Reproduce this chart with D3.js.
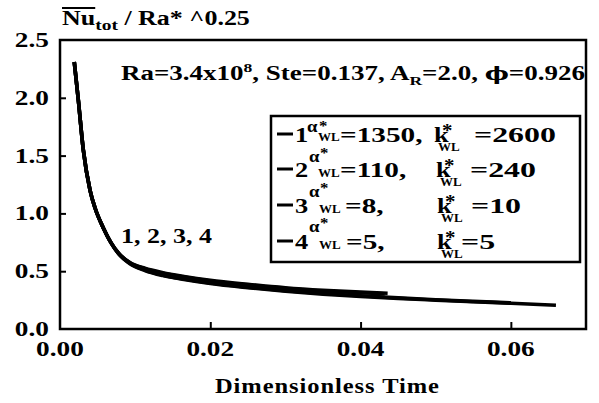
<!DOCTYPE html>
<html>
<head>
<meta charset="utf-8">
<script src="https://cdn.jsdelivr.net/npm/d3@7/dist/d3.min.js"></script>
<style>
  html, body { margin: 0; padding: 0; background: #fff; }
  svg { display: block; }
  text { font-family: "Liberation Serif", "Times New Roman", serif; font-weight: bold; fill: #000; }
</style>
</head>
<body>
<svg id="chart" width="599" height="403"></svg>
<script>
// Dimensionless time samples and Nu/Ra*^0.25 values for the four wall cases
const time1 = [0.0019, 0.00244, 0.0031, 0.0040, 0.0047, 0.0058, 0.0068, 0.0078, 0.0093, 0.0113, 0.0137, 0.0165, 0.020, 0.025, 0.030, 0.035, 0.040, 0.0436];
const nu1   = [2.31, 1.98, 1.55, 1.20, 1.04, 0.87, 0.745, 0.655, 0.575, 0.525, 0.487, 0.455, 0.422, 0.387, 0.357, 0.335, 0.319, 0.309];
const time2 = [0.0019, 0.00244, 0.0031, 0.0040, 0.0047, 0.0058, 0.0068, 0.0078, 0.0093, 0.0113, 0.0137, 0.0165, 0.020, 0.025, 0.030, 0.035, 0.040, 0.0432];
const nu2   = [2.31, 1.98, 1.55, 1.20, 1.04, 0.87, 0.745, 0.655, 0.573, 0.521, 0.482, 0.45, 0.416, 0.381, 0.351, 0.329, 0.313, 0.304];
const time3 = [0.0019, 0.00244, 0.0031, 0.0040, 0.0047, 0.0058, 0.0068, 0.0078, 0.0093, 0.0113, 0.0137, 0.0165, 0.020, 0.025, 0.030, 0.035, 0.040, 0.045, 0.050, 0.055, 0.060];
const nu3   = [2.31, 1.98, 1.55, 1.20, 1.04, 0.87, 0.745, 0.652, 0.568, 0.51, 0.466, 0.432, 0.398, 0.362, 0.332, 0.307, 0.287, 0.269, 0.253, 0.239, 0.226];
const time4 = [0.0019, 0.00244, 0.0031, 0.0040, 0.0047, 0.0058, 0.0068, 0.0078, 0.0093, 0.0113, 0.0137, 0.0165, 0.020, 0.025, 0.030, 0.035, 0.040, 0.045, 0.050, 0.055, 0.060, 0.066];
const nu4   = [2.31, 1.98, 1.55, 1.20, 1.04, 0.87, 0.745, 0.65, 0.565, 0.506, 0.462, 0.428, 0.393, 0.357, 0.327, 0.302, 0.282, 0.265, 0.25, 0.236, 0.223, 0.205];

const xTicks = [0, 0.02, 0.04, 0.06];
const yTicks = [0, 0.5, 1.0, 1.5, 2.0, 2.5];

// Legend entries: case number, alpha*_WL, k*_WL
const caseIds   = ["1", "2", "3", "4"];
const alphaVals = ["=1350,", "=110,", "=8,", "=5,"];
const kVals     = ["=2600", "=240", "=10", "=5"];

const series = [[time1, nu1], [time2, nu2], [time3, nu3], [time4, nu4]]
  .map(([t, v]) => t.map((d, i) => ({ t: d, v: v[i] })));

const svg = d3.select("#chart");
const plotL = 60, plotR = 586, plotT = 40, plotB = 329;
const SX = 1.3;   // horizontal stretch of the bold serif lettering
const ASX = 1.33; // stretch of the alpha values in the legend
const KSX = 1.45; // stretch of the k values in the legend

const x = d3.scaleLinear().domain([0, 0.07]).range([plotL, plotR]);
const y = d3.scaleLinear().domain([0, 2.5]).range([plotB, plotT]);

// stretch a text element horizontally about its anchor x
function stretch(sel, ax, sx) {
  sel.attr("transform", `translate(${ax},0) scale(${sx},1) translate(${-ax},0)`);
  return sel;
}
// stretch a text element so that it spans a given width
function fitWidth(sel, ax, width) {
  const w = sel.node().getBBox().width;
  return stretch(sel, ax, width / w);
}

// Axes with inward ticks
const xAxis = d3.axisBottom(x).tickValues(xTicks.slice(1))
  .tickSizeInner(-7).tickSizeOuter(0);
const gx = svg.append("g").attr("transform", `translate(0,${plotB})`).call(xAxis);
gx.select(".domain").remove();
gx.selectAll(".tick line").attr("stroke", "#000").attr("stroke-width", 2);
gx.selectAll(".tick text").remove();

const yAxis = d3.axisLeft(y).tickValues(yTicks.slice(1, -1))
  .tickSizeInner(-6).tickSizeOuter(0);
const gy = svg.append("g").attr("transform", `translate(${plotL},0)`).call(yAxis);
gy.select(".domain").remove();
gy.selectAll(".tick line").attr("stroke", "#000").attr("stroke-width", 2);
gy.selectAll(".tick text").remove();

// tick labels
svg.append("g").selectAll("text").data(xTicks).join("text")
  .attr("x", d => x(d)).attr("y", plotB + 27)
  .attr("text-anchor", "middle").attr("font-size", 21)
  .text(d3.format(".2f"))
  .each(function (d) { stretch(d3.select(this), x(d), SX); });
svg.append("g").selectAll("text").data(yTicks).join("text")
  .attr("x", 49).attr("y", d => y(d) + 7)
  .attr("text-anchor", "end").attr("font-size", 21)
  .text(d3.format(".1f"))
  .each(function () { stretch(d3.select(this), 49, SX); });

// frame
svg.append("rect").attr("x", plotL).attr("y", plotT)
  .attr("width", plotR - plotL).attr("height", plotB - plotT)
  .attr("fill", "none").attr("stroke", "#000").attr("stroke-width", 2.5);

// curves
const line = d3.line().x(d => x(d.t)).y(d => y(d.v)).curve(d3.curveMonotoneX);
svg.append("g").selectAll("path").data(series).join("path")
  .attr("d", line).attr("fill", "none").attr("stroke", "#000")
  .attr("stroke-width", 3.6);

// y axis title with overline on Nu
const yt = svg.append("text").attr("x", 62).attr("y", 25).attr("font-size", 20);
const nuSpan = yt.append("tspan").text("Nu");
yt.append("tspan").attr("dy", 5).attr("font-size", 15).text("tot");
yt.append("tspan").attr("dy", -5).text(" / Ra* ^0.25");
const nuLen = nuSpan.node().getComputedTextLength();
const ytW = yt.node().getBBox().width;
fitWidth(yt, 62, 188);
svg.append("line").attr("x1", 62).attr("x2", 62 + nuLen * 188 / ytW)
  .attr("y1", 8).attr("y2", 8).attr("stroke", "#000").attr("stroke-width", 1.8);

// parameter annotation
const pa = svg.append("text").attr("x", 121).attr("y", 80).attr("font-size", 20);
pa.append("tspan").text("Ra=3.4x10");
pa.append("tspan").attr("dy", -8).attr("font-size", 13).text("8");
pa.append("tspan").attr("dy", 8).text(", Ste=0.137, A");
pa.append("tspan").attr("dy", 5).attr("font-size", 13).text("R");
pa.append("tspan").attr("dy", -5).text("=2.0, ");
pa.append("tspan").attr("font-family", "DejaVu Serif").attr("font-size", 19).text("ϕ");
pa.append("tspan").text("=0.926");
fitWidth(pa, 121, 464);

// curve group label
const grp = svg.append("text").attr("x", 121).attr("y", 243).attr("font-size", 20).text("1, 2, 3, 4");
fitWidth(grp, 121, 91);

// legend box
svg.append("rect").attr("x", 271).attr("y", 116).attr("width", 309).attr("height", 146)
  .attr("fill", "#fff").attr("stroke", "#000").attr("stroke-width", 2.5);

const rowY = d3.scaleOrdinal().domain(caseIds).range([142, 177, 213, 249]);
const rows = svg.append("g").selectAll("g").data(caseIds).join("g")
  .attr("transform", d => `translate(0,${rowY(d)})`);

// one legend text piece per row, stretched horizontally
function piece(sel, xs, ys, size, txt, sx, family) {
  const t = sel.append("text")
    .attr("x", (d, i) => xs[i]).attr("y", (d, i) => ys[i])
    .attr("font-size", size).text(txt);
  if (family) t.attr("font-family", family).attr("font-weight", "normal");
  t.each(function (d, i) { stretch(d3.select(this), xs[i], sx); });
  return t;
}

rows.append("line").attr("x1", 277).attr("x2", 293).attr("y1", -8).attr("y2", -8)
  .attr("stroke", "#000").attr("stroke-width", 3);
piece(rows, [295, 295, 295, 295], [0, 0, 0, 0], 22, d => d, 1.2);
piece(rows, [307, 309, 309, 309], [-10, -15, -16, -17], 17, "α", 1.1, "DejaVu Sans");
piece(rows, [319, 320, 320, 320], [-11, -19, -20, -21], 14, "*", 1.2);
piece(rows, [318, 318, 319, 319], [-1, 0, 0, 0], 13, "WL", 1.0);
piece(rows, [340, 340, 345, 346], [0, 0, 0, 0], 22, (d, i) => alphaVals[i], ASX);
piece(rows, [434, 436, 437, 437], [0, 0, 0, 0], 22, "k", 1.2);
piece(rows, [442, 444, 445, 445], [-5, -5, -5, -5], 19, "*", 1.1);
piece(rows, [438, 440, 441, 441], [9, 9, 9, 9], 13, "WL", 1.0);
piece(rows, [474, 470, 471, 461], [0, 0, 0, 0], 22, (d, i) => kVals[i], KSX);

// x axis title
const xt = svg.append("text").attr("x", 215).attr("y", 393)
  .attr("font-size", 21).attr("letter-spacing", 0.8).text("Dimensionless Time");
fitWidth(xt, 215, 225);
</script>
</body>
</html>
